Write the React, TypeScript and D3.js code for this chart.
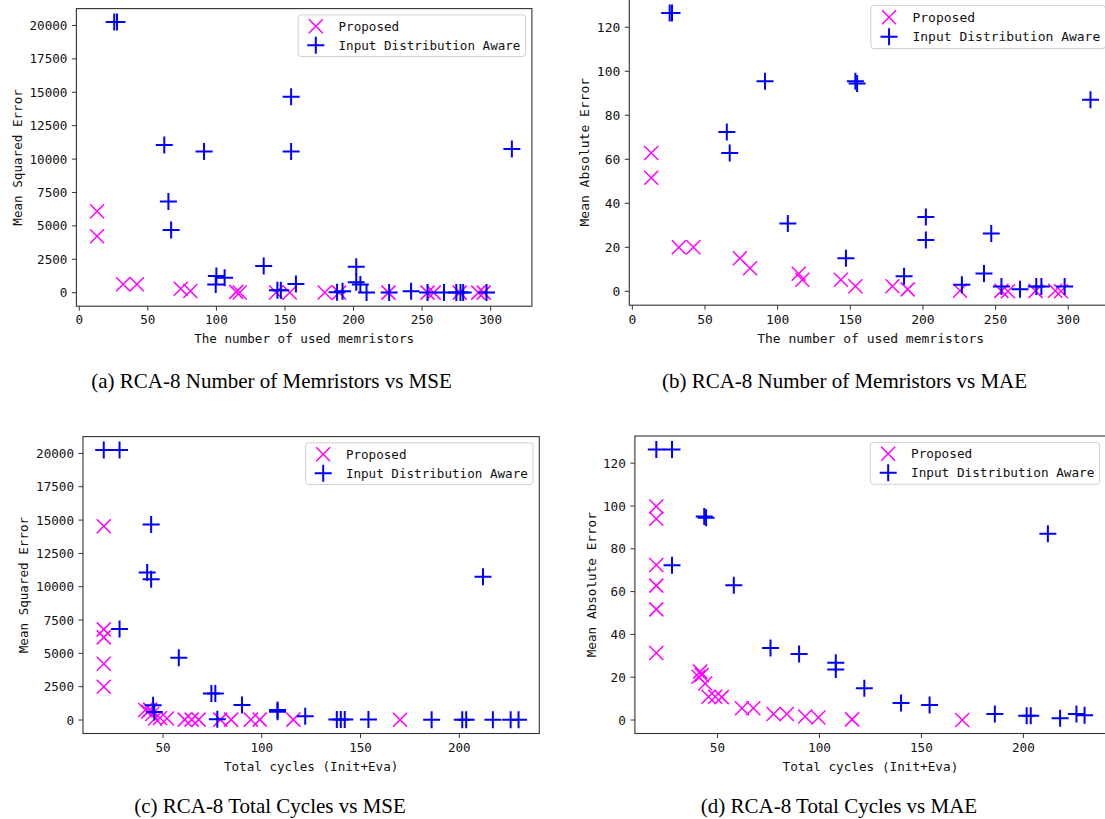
import React from "react";
import * as d3 from "d3";

// (a) / (b): number of used memristors
const memProposed = [13, 13, 32, 42, 74, 81, 114.5, 117, 143.5, 153.5, 179, 189.5, 225.5, 254, 258.5, 277.5, 291, 295];
const mseMemProposed = [6090, 4220, 625, 625, 290, 120, 60, 10, 20, 10, 10, 5, 2, 2, 2, 2, 2, 2];
const maeMemProposed = [62.9, 51.6, 20, 20, 15, 10.5, 8, 5.3, 5.3, 2.3, 2.3, 0.9, 0.3, 0.2, 0, 0.2, 0.3, 0];

const memIdaMse = [25.5, 27.5, 62, 65, 67, 91, 99.5, 100, 106, 134.5, 144.5, 147, 154.5, 154.5, 158, 188, 192, 202, 202, 205, 209.5, 226, 242, 254, 266, 275, 278, 280, 297, 315.5];
const mseMemIda = [20250, 20250, 11060, 6830, 4700, 10560, 620, 1240, 1120, 2000, 180, 180, 14660, 10560, 650, 30, 100, 1950, 780, 620, 20, 20, 100, 20, 20, 20, 20, 20, 20, 10760];

const memIdaMae = [25.7, 27.3, 65, 67, 91.3, 107, 147, 153.5, 154.7, 187, 202, 202, 226.8, 242, 247, 254, 266.8, 278, 281.5, 297.5, 315.3];
const maeMemIda = [126.5, 126.5, 72.4, 62.9, 95.5, 30.8, 15, 95.5, 94.5, 6.9, 33.8, 23.3, 3, 8.1, 26.3, 2.2, 1, 2.2, 2.2, 2.2, 87.1];

// (c) / (d): total cycles (Init+Eva)
const cycProposedMse = [20, 20, 20, 20, 20, 41, 42.5, 43.5, 44.5, 46, 48.5, 52, 61, 64.5, 68, 79, 84.5, 94.5, 99, 116, 170];
const mseCycProposed = [14540, 6800, 6200, 4225, 2490, 750, 620, 780, 450, 120, 150, 120, 30, 30, 30, 30, 30, 30, 30, 30, 20];

const cycProposedMae = [20, 20, 20, 20, 20, 20, 40.7, 41.5, 42.3, 44, 45.6, 48.9, 52.1, 62, 67.6, 77.5, 84, 93, 99.5, 116, 170];
const maeCycProposed = [99.8, 94, 72.4, 62.8, 51.7, 31.3, 20.2, 22.6, 21, 17.1, 10.9, 10.9, 10.7, 5.5, 5.5, 2.8, 2.8, 1.6, 1.2, 0.3, 0];

const cycIdaMse = [20, 28, 28, 42, 44, 44, 45, 45.6, 58, 74.5, 76.5, 77.5, 90, 108, 108, 122, 138, 140, 142, 154, 186, 201.5, 203.5, 212, 217, 226, 230];
const mseCycIda = [20250, 20250, 6830, 11060, 14660, 10560, 1100, 600, 4670, 1990, 1990, 50, 1120, 745, 620, 280, 40, 40, 40, 40, 20, 20, 20, 10740, 20, 20, 20];

const cycIdaMae = [20, 27.7, 27.7, 43.5, 44.4, 58, 76, 90, 108, 108, 122, 140, 154, 186, 201.6, 203.6, 212, 218, 226, 230];
const maeCycIda = [126.4, 126.4, 72.3, 95.1, 94.5, 63, 33.7, 30.8, 26.7, 23.6, 14.8, 8, 7, 2.8, 2, 2, 87, 0.8, 2.8, 2.2];

const memTicks = [0, 50, 100, 150, 200, 250, 300];
const cycTicks = [50, 100, 150, 200];
const mseTicks = [0, 2500, 5000, 7500, 10000, 12500, 15000, 17500, 20000];
const maeTicks = [0, 20, 40, 60, 80, 100, 120];

const seriesNames = ["Proposed", "Input Distribution Aware"];

const MONO = "'DejaVu Sans Mono', monospace";
const SERIF = "'Liberation Serif', 'Times New Roman', serif";

function Panel(p: any) {
  const { box, fs, xs, ys, xt, yt, px, py, ix, iy, xLabel, yLabel, yLabelX, cap, capX, capY } = p;
  const x = d3.scaleLinear().domain(xs).range([box.l, box.r]);
  const y = d3.scaleLinear().domain(ys).range([box.b, box.t]);
  const tick = 4.5;
  const rx = 7;
  const rp = 8.5;
  const lw = 18.05 * fs;
  const lh = 3.3 * fs;
  const lr = box.r - 0.5 * fs;
  const lt = box.t + 0.5 * fs;
  const ll = lr - lw;
  const row1 = lt + 0.9 * fs;
  const row2 = row1 + 1.5 * fs;
  const xMark = (cx: number, cy: number, k: string) => (
    <path key={k} d={`M${cx - rx},${cy - rx}L${cx + rx},${cy + rx}M${cx - rx},${cy + rx}L${cx + rx},${cy - rx}`} stroke="#ff00ff" strokeWidth={1.5} fill="none" />
  );
  const pMark = (cx: number, cy: number, k: string) => (
    <path key={k} d={`M${cx - rp},${cy}L${cx + rp},${cy}M${cx},${cy - rp}L${cx},${cy + rp}`} stroke="#0000ff" strokeWidth={2} fill="none" />
  );
  const midX = (box.l + box.r) / 2;
  const midY = (box.t + box.b) / 2;
  return (
    <g>
      {/* markers */}
      {px.map((v: number, i: number) => xMark(x(v), y(py[i]), "p" + i))}
      {ix.map((v: number, i: number) => pMark(x(v), y(iy[i]), "i" + i))}
      {/* frame */}
      <rect x={box.l} y={box.t} width={box.r - box.l} height={box.b - box.t} fill="none" stroke="#333" strokeWidth={1.1} />
      {/* x ticks */}
      {xt.map((t: number) => (
        <g key={"xt" + t}>
          <line x1={x(t)} x2={x(t)} y1={box.b} y2={box.b + tick} stroke="#333" strokeWidth={1} />
          <text x={x(t)} y={box.b + tick + 4 + fs * 0.76} textAnchor="middle" fontFamily={MONO} fontSize={fs} fill="#111">{t}</text>
        </g>
      ))}
      {/* y ticks */}
      {yt.map((t: number) => (
        <g key={"yt" + t}>
          <line x1={box.l - tick} x2={box.l} y1={y(t)} y2={y(t)} stroke="#333" strokeWidth={1} />
          <text x={box.l - tick - 4.5} y={y(t)} dy="0.36em" textAnchor="end" fontFamily={MONO} fontSize={fs} fill="#111">{t}</text>
        </g>
      ))}
      <text x={midX} y={box.b + 2.55 * fs + 5} textAnchor="middle" fontFamily={MONO} fontSize={fs} fill="#111">{xLabel}</text>
      <text transform={`translate(${yLabelX},${midY}) rotate(-90)`} dy="0.36em" textAnchor="middle" fontFamily={MONO} fontSize={fs} fill="#111">{yLabel}</text>
      {/* legend */}
      <rect x={ll} y={lt} width={lw} height={lh} rx={3} fill="#fff" fillOpacity={0.8} stroke="#d0d0d0" strokeWidth={1} />
      {xMark(ll + 1.4 * fs, row1, "lx")}
      {pMark(ll + 1.4 * fs, row2, "lp")}
      <text x={ll + 3.2 * fs} y={row1} dy="0.36em" fontFamily={MONO} fontSize={fs} fill="#111">{seriesNames[0]}</text>
      <text x={ll + 3.2 * fs} y={row2} dy="0.36em" fontFamily={MONO} fontSize={fs} fill="#111">{seriesNames[1]}</text>
      <text x={capX} y={capY} textAnchor="middle" fontFamily={SERIF} fontSize={21} fill="#000">{cap}</text>
    </g>
  );
}

export default function App() {
  return (
    <svg width={1105} height={819} style={{ position: "absolute", left: 0, top: 0, background: "#fff" }}>
      <Panel box={{ l: 76.4, r: 531.9, t: 8.6, b: 306.2 }} fs={12.6} xs={[-2.1, 330.1]} ys={[-1012, 21262]}
        xt={memTicks} yt={mseTicks} px={memProposed} py={mseMemProposed} ix={memIdaMse} iy={mseMemIda}
        xLabel="The number of used memristors" yLabel="Mean Squared Error" yLabelX={17.2}
        cap="(a) RCA-8 Number of Memristors vs MSE" capX={271.5} capY={388} />
      <Panel box={{ l: 629.3, r: 1112, t: -0.9, b: 305.2 }} fs={13} xs={[-2.1, 330.1]} ys={[-6.3, 132.8]}
        xt={memTicks} yt={maeTicks} px={memProposed} py={maeMemProposed} ix={memIdaMae} iy={maeMemIda}
        xLabel="The number of used memristors" yLabel="Mean Absolute Error" yLabelX={584.3}
        cap="(b) RCA-8 Number of Memristors vs MAE" capX={844.5} capY={388} />
      <Panel box={{ l: 83, r: 539.3, t: 436.6, b: 733.5 }} fs={12.6} xs={[9.5, 240.5]} ys={[-1012, 21262]}
        xt={cycTicks} yt={mseTicks} px={cycProposedMse} py={mseCycProposed} ix={cycIdaMse} iy={mseCycIda}
        xLabel="Total cycles (Init+Eva)" yLabel="Mean Squared Error" yLabelX={23.6}
        cap="(c) RCA-8 Total Cycles vs MSE" capX={270} capY={813} />
      <Panel box={{ l: 634.9, r: 1106, t: 436, b: 733.5 }} fs={12.7} xs={[9.5, 240.5]} ys={[-6.3, 132.7]}
        xt={cycTicks} yt={maeTicks} px={cycProposedMae} py={maeCycProposed} ix={cycIdaMae} iy={maeCycIda}
        xLabel="Total cycles (Init+Eva)" yLabel="Mean Absolute Error" yLabelX={591.3}
        cap="(d) RCA-8 Total Cycles vs MAE" capX={839} capY={813} />
    </svg>
  );
}
